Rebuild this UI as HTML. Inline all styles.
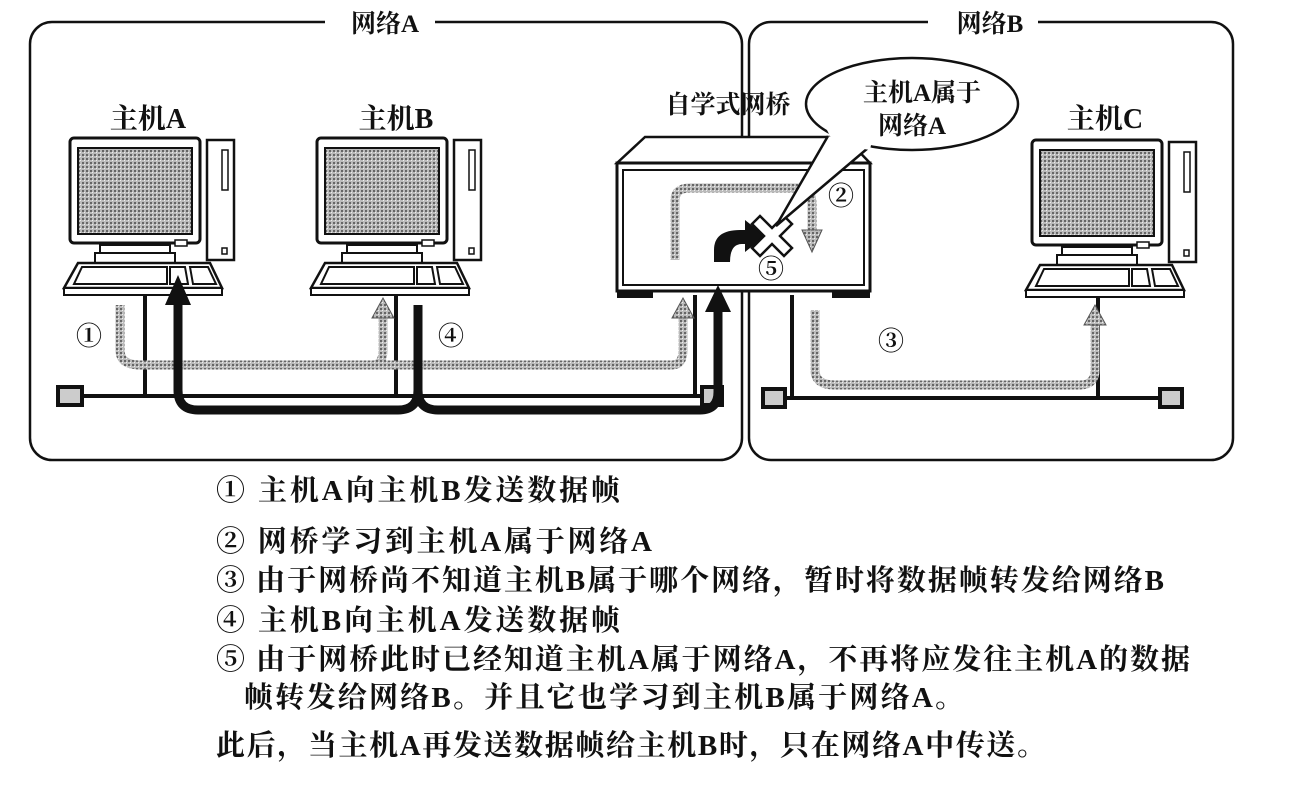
<!DOCTYPE html>
<html><head><meta charset="utf-8"><style>
body{margin:0;background:#fff;width:1296px;height:786px;overflow:hidden}
svg{display:block}
text{font-family:"Liberation Serif","Noto Serif CJK SC",serif;font-weight:bold;fill:#111}
.c text{font-family:"Noto Serif CJK SC",serif}
</style></head><body>
<svg width="1296" height="786" viewBox="0 0 1296 786">
<defs>
<pattern id="g" width="4" height="4" patternUnits="userSpaceOnUse"><rect width="4" height="4" fill="#bbb"/><rect width="2" height="2" fill="#666"/><rect x="2" y="2" width="1" height="1" fill="#eee"/></pattern>
<g id="host">
 <rect x="0" y="0" width="130" height="105" rx="4" fill="#fff" stroke="#111" stroke-width="3"/>
 <rect x="8" y="10" width="114" height="86" fill="url(#g)" stroke="#111" stroke-width="2"/>
 <rect x="30" y="107" width="70" height="8" fill="#fff" stroke="#111" stroke-width="2"/>
 <rect x="25" y="115" width="80" height="10" fill="#fff" stroke="#111" stroke-width="2"/>
 <rect x="105" y="102" width="12" height="6" fill="#fff" stroke="#111" stroke-width="1.5"/>
 <rect x="137" y="2" width="27" height="120" fill="#fff" stroke="#111" stroke-width="2.5"/>
 <rect x="152" y="12" width="6" height="40" fill="#fff" stroke="#111" stroke-width="1.5"/>
 <rect x="152" y="110" width="5" height="6" fill="#fff" stroke="#111" stroke-width="1.5"/>
 <path d="M8 125 L140 125 L152 150 L-6 150 Z" fill="#fff" stroke="#111" stroke-width="2.5"/>
 <path d="M-6 150 L152 150 L152 157 L-6 157 Z" fill="#fff" stroke="#111" stroke-width="2"/>
 <path d="M12 129 L97 129 L97 146 L4 146 Z M100 129 L115 129 L118 146 L100 146 Z M120 129 L138 129 L146 146 L123 146 Z" fill="#fff" stroke="#111" stroke-width="2"/>
</g>
</defs>
<rect x="30" y="22" width="712" height="438" rx="22" fill="none" stroke="#111" stroke-width="2.5"/>
<rect x="749" y="22" width="484" height="438" rx="22" fill="none" stroke="#111" stroke-width="2.5"/>
<rect x="325" y="8" width="110" height="30" fill="#fff"/>
<rect x="928" y="8" width="110" height="30" fill="#fff"/>
<text x="385" y="32" font-size="25" text-anchor="middle">网络A</text>
<text x="990" y="32" font-size="25" text-anchor="middle">网络B</text>
<text x="148" y="128" font-size="28" text-anchor="middle">主机A</text>
<text x="396" y="128" font-size="28" text-anchor="middle">主机B</text>
<text x="1105" y="128" font-size="28" text-anchor="middle">主机C</text>
<use href="#host" x="70" y="138"/>
<use href="#host" x="317" y="138"/>
<use href="#host" x="1032" y="140"/>
<line x1="70" y1="396" x2="715" y2="396" stroke="#111" stroke-width="4"/>
<rect x="58" y="387" width="24" height="18" fill="#ccc" stroke="#111" stroke-width="4"/>
<rect x="702" y="387" width="20" height="18" fill="#ccc" stroke="#111" stroke-width="4"/>
<line x1="145" y1="295" x2="145" y2="396" stroke="#111" stroke-width="4"/>
<line x1="396" y1="295" x2="396" y2="396" stroke="#111" stroke-width="4"/>
<line x1="695" y1="295" x2="695" y2="396" stroke="#111" stroke-width="4"/>
<line x1="775" y1="398" x2="1170" y2="398" stroke="#111" stroke-width="4"/>
<rect x="763" y="389" width="22" height="18" fill="#ccc" stroke="#111" stroke-width="4"/>
<rect x="1160" y="389" width="22" height="18" fill="#ccc" stroke="#111" stroke-width="4"/>
<line x1="792" y1="295" x2="792" y2="398" stroke="#111" stroke-width="4"/>
<line x1="1098" y1="297" x2="1098" y2="398" stroke="#111" stroke-width="4"/>
<path d="M617 163 L645 137 L845 137 L870 163 Z" fill="#fff" stroke="#111" stroke-width="2.5"/>
<rect x="617" y="163" width="253" height="128" fill="#fff" stroke="#111" stroke-width="3"/>
<rect x="623" y="170" width="241" height="115" fill="none" stroke="#111" stroke-width="2"/>
<rect x="617" y="290" width="36" height="8" fill="#111"/>
<rect x="832" y="290" width="38" height="8" fill="#111"/>
<text x="728" y="113" font-size="25" text-anchor="middle">自学式网桥</text>
<g fill="none" stroke="url(#g)" stroke-width="9">
<path d="M120 305 V350 Q120 365 140 365 H672 Q683 365 683 350 V318"/>
<path d="M373 365 Q383 365 383 350 V318"/>
<path d="M815 310 V370 Q815 385 835 385 H1080 Q1095 385 1095 370 V325"/>
<path d="M675 260 V200 Q675 188 690 188 H800 Q812 188 812 205 V230"/>
</g>
<g fill="url(#g)" stroke="#555" stroke-width="1">
<path d="M372 318 L383 298 L394 318 Z"/><path d="M672 318 L683 298 L694 318 Z"/>
<path d="M1084 325 L1095 305 L1106 325 Z"/><path d="M802 230 L812 252 L822 230 Z"/>
</g>
<g fill="none" stroke="#111" stroke-width="9">
<path d="M178 300 V390 Q178 410 198 410 H398 Q418 410 418 390 V305"/>
<path d="M418 390 Q418 410 438 410 H700 Q718 410 718 392 V310"/>
</g>
<path d="M165 305 L178 275 L191 305 Z M705 312 L718 285 L731 312 Z" fill="#111"/>
<path d="M714 262 V250 Q714 230 740 230 H745 V220 L765 236 L745 252 V244 H742 Q730 244 730 262 Z" fill="#111"/>
<path d="M760 216 L772 228 L784 216 L792 224 L780 236 L792 248 L784 256 L772 244 L760 256 L752 248 L764 236 L752 224 Z" fill="#fff" stroke="#111" stroke-width="2.5"/>
<ellipse cx="912" cy="104" rx="106" ry="46" fill="#fff" stroke="#111" stroke-width="2.5"/>
<path d="M828 136 L776 226 L868 148" fill="#fff" stroke="#111" stroke-width="2.5"/>
<path d="M826 128 L834 144 L870 150 L872 140 Z" fill="#fff"/>
<text x="922" y="101" font-size="25" text-anchor="middle">主机A属于</text>
<text x="912" y="134" font-size="25" text-anchor="middle">网络A</text>
<g font-size="26" class="c">
<text x="76" y="345">①</text><text x="438" y="345">④</text><text x="878" y="350">③</text>
<text x="828" y="205">②</text><text x="758" y="278">⑤</text>
</g>
<g font-size="29">
<text x="216" y="500" textLength="404">① 主机A向主机B发送数据帧</text>
<text x="216" y="551" textLength="436">② 网桥学习到主机A属于网络A</text>
<text x="216" y="590" textLength="948">③ 由于网桥尚不知道主机B属于哪个网络，暂时将数据帧转发给网络B</text>
<text x="216" y="630" textLength="404">④ 主机B向主机A发送数据帧</text>
<text x="216" y="669" textLength="974">⑤ 由于网桥此时已经知道主机A属于网络A，不再将应发往主机A的数据</text>
<text x="244" y="707" textLength="720">帧转发给网络B。并且它也学习到主机B属于网络A。</text>
<text x="216" y="755" textLength="830">此后，当主机A再发送数据帧给主机B时，只在网络A中传送。</text>
</g>
</svg>
</body></html>
